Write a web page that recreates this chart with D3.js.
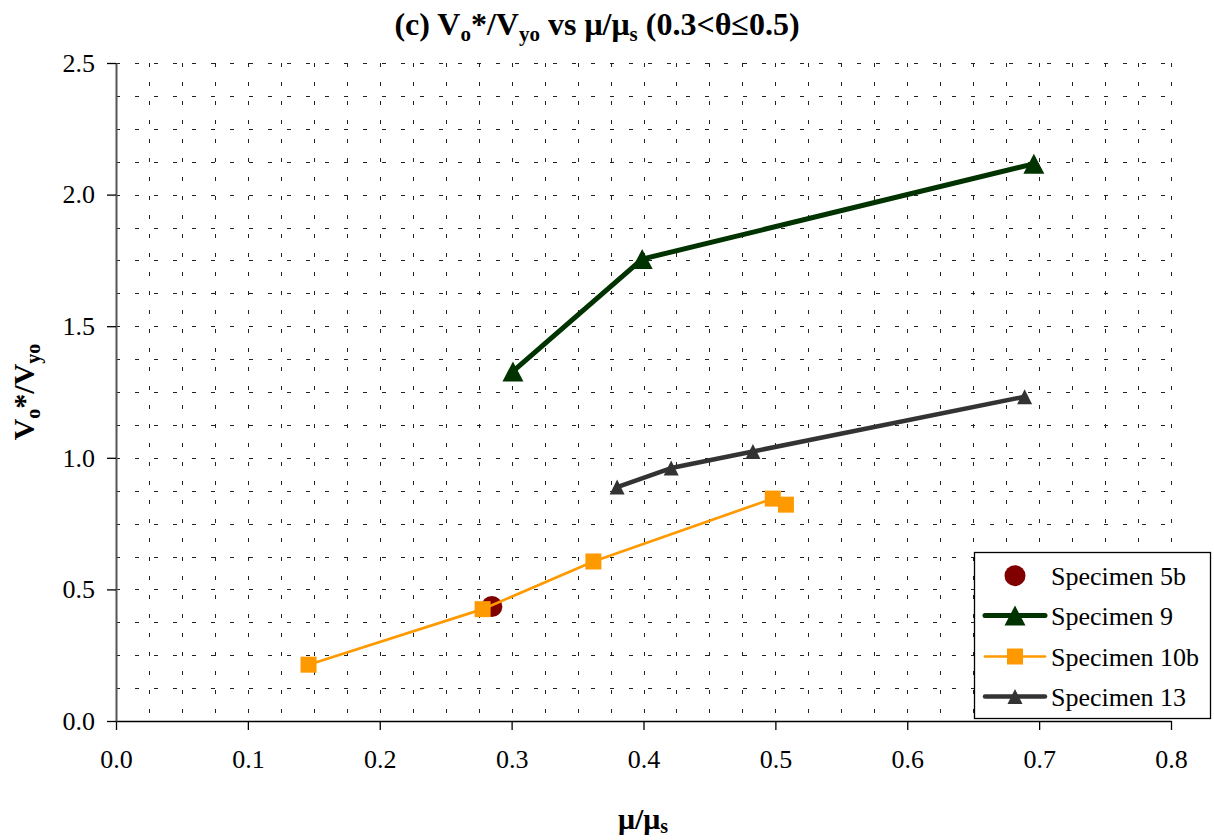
<!DOCTYPE html>
<html><head><meta charset="utf-8">
<script src="https://cdn.jsdelivr.net/npm/d3@7"></script>
<style>
body{margin:0;background:#fff;}
svg{display:block;}
svg text{font-family:'Liberation Serif','Times New Roman',Times,serif;}
</style></head>
<body>
<script>
// ---- data ----
const xTicks = [0.0, 0.1, 0.2, 0.3, 0.4, 0.5, 0.6, 0.7, 0.8];
const yTicks = [0.0, 0.5, 1.0, 1.5, 2.0, 2.5];
const seriesNames = ["Specimen 5b", "Specimen 9", "Specimen 10b", "Specimen 13"];
const spec5bX = [0.285];
const spec5bY = [0.435];
const spec9X = [0.301, 0.399, 0.696];
const spec9Y = [1.328, 1.755, 2.117];
const spec10bX = [0.146, 0.278, 0.362, 0.498, 0.508];
const spec10bY = [0.214, 0.425, 0.606, 0.845, 0.822];
const spec13X = [0.380, 0.421, 0.483, 0.689];
const spec13Y = [0.889, 0.961, 1.024, 1.232];

const FONT = "'Liberation Serif','Times New Roman',Times,serif";
const W = 1214, H = 840;
const L = 116, R = 1171, T = 63, B = 721;

const svg = d3.select("body").append("svg").attr("width", W).attr("height", H);
const x = d3.scaleLinear().domain([0, 0.8]).range([L, R]);
const y = d3.scaleLinear().domain([0, 2.5]).range([B, T]);

// gridlines
const grid = svg.append("g").attr("stroke", "#222").attr("stroke-width", 1).attr("stroke-dasharray", "4,15");
const yGrid = d3.range(1, 21).map(i => i * 0.125);
const xGrid = d3.range(1, 33).map(i => i * 0.025);
grid.selectAll(".hg").data(yGrid).enter().append("line")
  .attr("x1", L).attr("x2", R).attr("y1", d => Math.round(y(d)) + 0.5).attr("y2", d => Math.round(y(d)) + 0.5);
grid.selectAll(".vg").data(xGrid).enter().append("line")
  .attr("x1", d => Math.round(x(d)) + 0.5).attr("x2", d => Math.round(x(d)) + 0.5).attr("y1", T).attr("y2", B);

// axes
const xAxis = d3.axisBottom(x).tickValues(xTicks).tickFormat(d3.format(".1f")).tickSize(9).tickSizeOuter(0).tickPadding(20);
const yAxis = d3.axisLeft(y).tickValues(yTicks).tickFormat(d3.format(".1f")).tickSize(9).tickSizeOuter(0).tickPadding(12);
const gx = svg.append("g").attr("transform", `translate(0,${B})`).call(xAxis);
const gy = svg.append("g").attr("transform", `translate(${L},0)`).call(yAxis);
[gx, gy].forEach(g => {
  g.attr("font-family", FONT);
  g.selectAll("text").attr("font-family", FONT).attr("font-size", 26).attr("fill", "#000");
  g.selectAll("line").attr("stroke", "#000").attr("stroke-width", 1.3);
});
gx.select(".domain").attr("stroke", "#000").attr("stroke-width", 1.5);
gy.select(".domain").attr("stroke", "#555").attr("stroke-width", 2);

// series
const line = d3.line().x(d => x(d[0])).y(d => y(d[1]));
const zip = (a, b) => a.map((v, i) => [v, b[i]]);
const tri = (w, h) => `M0,${-h/2}L${w/2},${h/2}L${-w/2},${h/2}Z`;

const styles = [
  {name: seriesNames[0], data: zip(spec5bX, spec5bY), color: "#800000", width: 0, marker: "circle", size: 10.5},
  {name: seriesNames[1], data: zip(spec9X, spec9Y), color: "#003300", width: 5, marker: "tri", w: 21, h: 20},
  {name: seriesNames[2], data: zip(spec10bX, spec10bY), color: "#FF9900", width: 2.7, marker: "square", size: 16},
  {name: seriesNames[3], data: zip(spec13X, spec13Y), color: "#333333", width: 4.5, marker: "tri", w: 15, h: 15}
];

function drawMarker(g, m, cx, cy) {
  if (m.marker === "circle") {
    g.append("circle").attr("cx", cx).attr("cy", cy).attr("r", m.size).attr("fill", m.color);
  } else if (m.marker === "square") {
    g.append("rect").attr("x", cx - m.size/2).attr("y", cy - m.size/2).attr("width", m.size).attr("height", m.size).attr("fill", m.color);
  } else {
    g.append("path").attr("d", tri(m.w, m.h)).attr("transform", `translate(${cx},${cy})`).attr("fill", m.color);
  }
}

styles.forEach(s => {
  const g = svg.append("g");
  if (s.width > 0) {
    g.append("path").datum(s.data).attr("d", line).attr("fill", "none")
      .attr("stroke", s.color).attr("stroke-width", s.width).attr("stroke-linejoin", "round");
  }
  s.data.forEach(d => drawMarker(g, s, x(d[0]), y(d[1])));
});

// legend
const lg = svg.append("g");
lg.append("rect").attr("x", 974.5).attr("y", 552.5).attr("width", 236).attr("height", 166)
  .attr("fill", "#fff").attr("stroke", "#000").attr("stroke-width", 1.3);
const legY = [575.7, 615.5, 656.5, 696.5];
styles.forEach((s, i) => {
  const cy = legY[i];
  if (s.width > 0) {
    lg.append("line").attr("x1", 985).attr("x2", 1045).attr("y1", cy).attr("y2", cy)
      .attr("stroke", s.color).attr("stroke-width", s.width).attr("stroke-linecap", "round");
  }
  drawMarker(lg, s, 1015, cy);
  lg.append("text").attr("x", 1051).attr("y", cy + 9).attr("font-family", FONT).attr("font-size", 26).attr("fill", "#000").text(s.name);
});

// title
const title = svg.append("text").attr("x", 597).attr("y", 35).attr("text-anchor", "middle")
  .attr("font-family", FONT).attr("font-size", 32).attr("font-weight", "bold");
title.append("tspan").text("(c) V");
title.append("tspan").attr("font-size", 21).attr("dy", 6).text("o");
title.append("tspan").attr("dy", -6).text("*/V");
title.append("tspan").attr("font-size", 21).attr("dy", 6).text("yo");
title.append("tspan").attr("dy", -6).text(" vs \u03bc/\u03bc");
title.append("tspan").attr("font-size", 21).attr("dy", 6).text("s");
title.append("tspan").attr("dy", -6).text(" (0.3<\u03b8\u22640.5)");

// x axis title
const xt = svg.append("text").attr("x", 643).attr("y", 829).attr("text-anchor", "middle")
  .attr("font-family", FONT).attr("font-size", 30).attr("font-weight", "bold");
xt.append("tspan").text("\u03bc/\u03bc");
xt.append("tspan").attr("font-size", 20).attr("dy", 4).text("s");

// y axis title
const yt = svg.append("text").attr("transform", "translate(34,392) rotate(-90)").attr("text-anchor", "middle")
  .attr("font-family", FONT).attr("font-size", 30).attr("font-weight", "bold");
yt.append("tspan").text("V");
yt.append("tspan").attr("font-size", 20).attr("dy", 6).text("o");
yt.append("tspan").attr("dy", -6).text("*/V");
yt.append("tspan").attr("font-size", 20).attr("dy", 6).text("yo");
</script>
</body></html>
